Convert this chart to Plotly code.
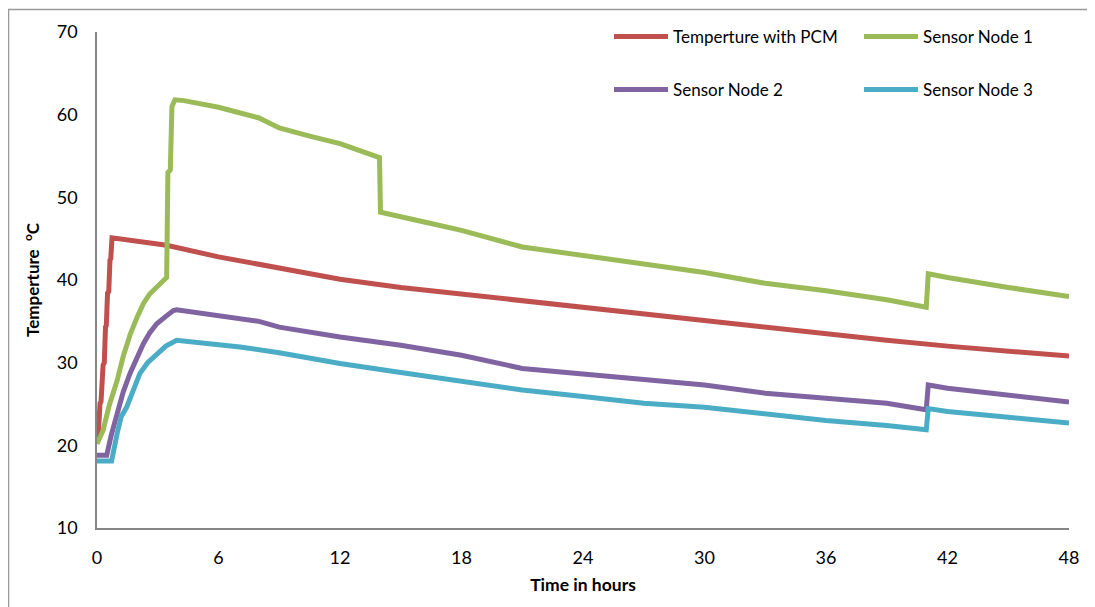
import plotly.graph_objects as go

# ---- data ----
red_t = [0, 0.05, 0.15, 0.2, 0.3, 0.36, 0.42, 0.46, 0.52, 0.58, 0.64, 0.68, 0.74, 1.0, 3.44, 6, 9, 12, 15, 18, 21, 24, 27, 30, 33, 36, 39, 42, 45, 48]
red_T = [20.2, 20.6, 25.1, 25.3, 29.7, 30.0, 34.3, 34.5, 38.4, 38.6, 42.4, 42.6, 45.1, 45.0, 44.2, 42.8, 41.4, 40.1, 39.1, 38.3, 37.5, 36.7, 35.8, 35.0, 34.2, 33.5, 32.7, 32.0, 31.4, 30.8]

g_t = [0, 0.3, 0.6, 1.0, 1.3, 1.65, 2.0, 2.3, 2.6, 3.0, 3.44, 3.5, 3.62, 3.7, 3.85, 4.3, 6, 8, 9, 10.5, 12, 13.95, 14.0, 16, 18, 21, 24, 27, 30, 33, 36, 39, 40.95, 41.05, 42, 45, 48]
g_T = [20.2, 21.8, 24.8, 27.9, 30.8, 33.5, 35.6, 37.2, 38.3, 39.3, 40.3, 53.0, 53.3, 61.0, 61.8, 61.7, 60.9, 59.6, 58.4, 57.4, 56.5, 54.8, 48.2, 47.1, 46.0, 44.0, 43.0, 42.0, 40.9, 39.6, 38.7, 37.6, 36.7, 40.75, 40.3, 39.1, 38.0]

p_t = [0, 0.48, 0.7, 0.97, 1.3, 1.63, 2.0, 2.29, 2.6, 2.95, 3.4, 3.77, 3.93, 5, 7.06, 8, 9, 12, 15, 18, 21, 24, 27, 30, 33, 36, 39, 40.95, 41.05, 42, 45, 48]
p_T = [18.8, 18.8, 21.2, 23.8, 26.5, 28.7, 30.7, 32.3, 33.6, 34.7, 35.6, 36.3, 36.4, 36.0, 35.35, 35.0, 34.3, 33.1, 32.1, 30.9, 29.3, 28.6, 27.9, 27.3, 26.3, 25.7, 25.1, 24.3, 27.3, 26.9, 26.1, 25.25]

c_t = [0, 0.72, 1.0, 1.2, 1.46, 1.8, 2.12, 2.5, 2.95, 3.4, 3.93, 5, 7.06, 9, 12, 15, 18, 21, 24, 27, 30, 33, 36, 39, 40.95, 41.05, 42, 45, 48]
c_T = [18.1, 18.1, 21.5, 23.5, 24.6, 26.9, 28.7, 30.0, 31.1, 32.0, 32.7, 32.4, 31.9, 31.2, 29.9, 28.8, 27.7, 26.7, 25.9, 25.1, 24.6, 23.8, 23.0, 22.4, 21.9, 24.45, 24.1, 23.4, 22.7]

names = ["Temperture with PCM", "Sensor Node 1", "Sensor Node 2", "Sensor Node 3"]
x_ticks = [0, 6, 12, 18, 24, 30, 36, 42, 48]
y_ticks = [10, 20, 30, 40, 50, 60, 70]

colors = ["#C0504D", "#9BBB59", "#8064A2", "#4BACC6"]
series = [(red_t, red_T), (g_t, g_T), (p_t, p_T), (c_t, c_T)]
legend_ids = ["legend", "legend2", "legend3", "legend4"]
# page-pixel anchor of each legend line sample (left x, centre y)
legend_pos = [(614, 37), (864, 37), (614, 90), (864, 90)]

FONT = "Lato, 'Open Sans', sans-serif"

# page has an 8px body margin: convert page pixels to figure pixels
OFF = 8
W, H = 1095, 607
PL, PR, PT, PB = 97, 1069, 31, 528          # plot area in page pixels
L, T = PL - OFF, PT - OFF
R = W - (PR - OFF)
B = H - (PB - OFF)
pw, ph = W - L - R, H - T - B


def px(xp):
    return (xp - OFF - L) / pw


def py(yp):
    return (H - B - (yp - OFF)) / ph


fig = go.Figure()
for (xs, ys), nm, col, lg in zip(series, names, colors, legend_ids):
    fig.add_trace(go.Scatter(x=xs, y=ys, mode="lines", name=nm,
                             line=dict(color=col, width=5), legend=lg))

legend_layout = {}
for lg, (lx, ly) in zip(legend_ids, legend_pos):
    legend_layout[lg] = dict(x=px(lx - 5), y=py(ly), xanchor="left", yanchor="middle",
                             orientation="h", itemwidth=54,
                             bgcolor="rgba(0,0,0,0)", font=dict(size=17))

fig.update_layout(
    width=W, height=H,
    margin=dict(l=L, r=R, t=T, b=B),
    paper_bgcolor="white", plot_bgcolor="white",
    font=dict(family=FONT, size=17, color="#000000"),
    xaxis=dict(range=[0, 48], tickvals=x_ticks, showgrid=False, zeroline=False,
               showline=True, linecolor="#868686", linewidth=1.5, ticks="",
               ticklabelstandoff=13, tickfont=dict(size=18),
               title=dict(text="<b>Time in hours</b>", font=dict(size=17.5), standoff=11)),
    yaxis=dict(range=[10, 70], tickvals=y_ticks, showgrid=False, zeroline=False,
               showline=True, linecolor="#868686", linewidth=1.5, ticks="",
               ticklabelstandoff=14, tickfont=dict(size=18),
               title=dict(text="<b>Temperture\u00a0\u00a0<sup>o</sup>C</b>", font=dict(size=17), standoff=13)),
    showlegend=True,
    shapes=[dict(type="rect", xref="paper", yref="paper",
                 x0=-L / pw + 0.5 / pw, x1=px(1120), y0=py(640), y1=1 + (T - 0.5) / ph,
                 line=dict(color="#999999", width=1.5), fillcolor="rgba(0,0,0,0)", layer="below")],
    **legend_layout,
)

fig.write_html("out.html")
